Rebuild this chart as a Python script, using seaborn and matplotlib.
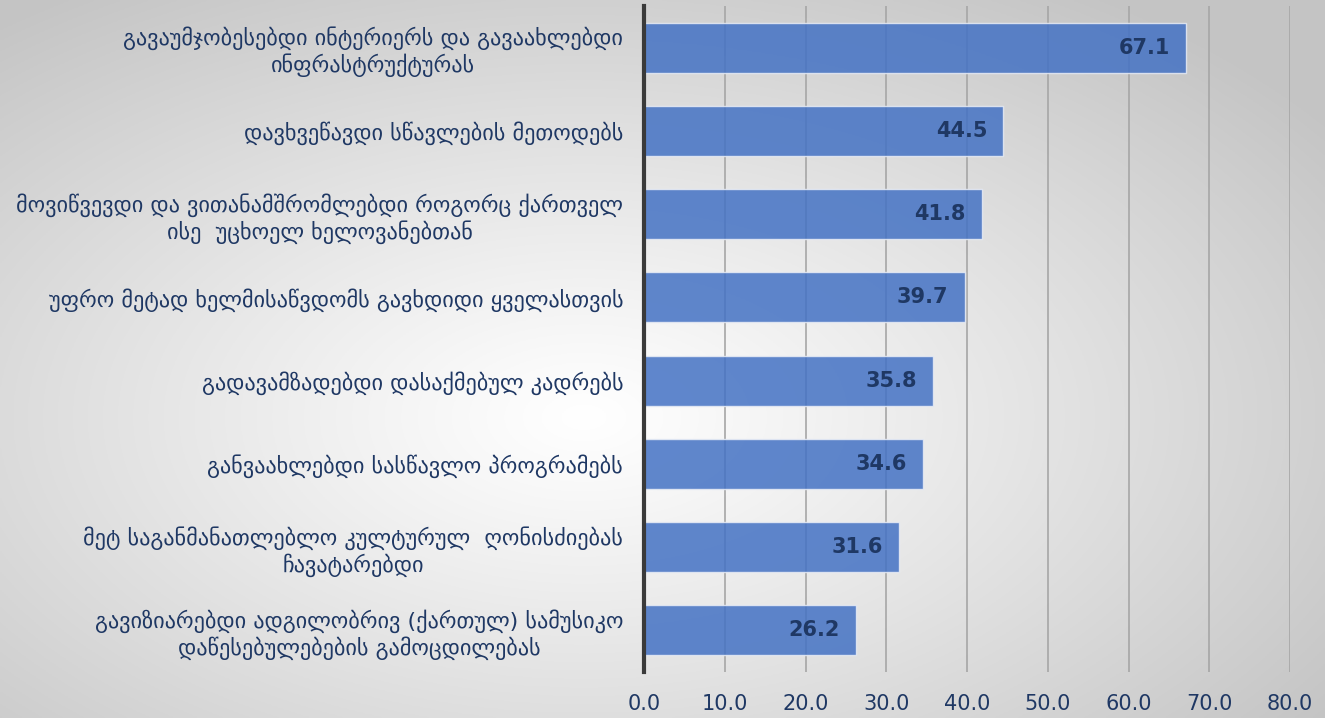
import numpy as np
import pandas as pd
import matplotlib
matplotlib.use("Agg")
import matplotlib.pyplot as plt
import seaborn as sns

categories = [
    "გავაუმჯობესებდი ინტერიერს და გავაახლებდი\nინფრასტრუქტურას",
    "დავხვეწავდი სწავლების მეთოდებს",
    "მოვიწვევდი და ვითანამშრომლებდი როგორც ქართველ\nისე  უცხოელ ხელოვანებთან",
    "უფრო მეტად ხელმისაწვდომს გავხდიდი ყველასთვის",
    "გადავამზადებდი დასაქმებულ კადრებს",
    "განვაახლებდი სასწავლო პროგრამებს",
    "მეტ საგანმანათლებლო კულტურულ  ღონისძიებას\nჩავატარებდი",
    "გავიზიარებდი ადგილობრივ (ქართულ) სამუსიკო\nდაწესებულებების გამოცდილებას",
]
values = [67.1, 44.5, 41.8, 39.7, 35.8, 34.6, 31.6, 26.2]
xticks = [0, 10, 20, 30, 40, 50, 60, 70, 80]

df = pd.DataFrame({"cat": categories, "val": values})

sns.set_theme(style="white")
plt.rcParams["font.family"] = ["DejaVu Sans"]

fig = plt.figure(figsize=(13.25, 7.18), dpi=100)

# background gradient (radial, white centre, grey edges)
bg = fig.add_axes([0, 0, 1, 1], zorder=-10)
H, W = 360, 660
yy, xx = np.mgrid[0:H, 0:W]
cx, cy = 0.44 * W, 0.58 * H
dx = (xx - cx) / max(cx, W - cx)
dy = (yy - cy) / max(cy, H - cy)
d = np.sqrt(dx ** 2 + dy ** 2) / np.sqrt(2)
g = 1.0 - 0.23 * np.clip(d * 1.15, 0, 1) ** 1.1
bg.imshow(np.dstack([g, g, g]), aspect="auto", extent=[0, 1, 0, 1], origin="upper")
bg.axis("off")

ax = fig.add_axes([644 / 1325, 1 - 672 / 718, (1290 - 644) / 1325, (672 - 6) / 718])
ax.patch.set_alpha(0)
navy = "#1F3864"

sns.barplot(data=df, x="val", y="cat", orient="h", color="#4472C4", width=0.6,
            alpha=0.85, edgecolor="#E8ECF5", linewidth=1, ax=ax, zorder=3, saturation=1)

ax.set_xlim(0, 80)
ax.set_xticks(xticks)
ax.set_xticklabels([f"{v:.1f}" for v in xticks], color=navy, fontsize=15)
ax.tick_params(axis="x", length=0, pad=16)
ax.tick_params(axis="y", length=0, pad=15)
for lbl in ax.get_yticklabels():
    lbl.set_fontsize(16)
    lbl.set_color(navy)
    lbl.set_multialignment("center")
ax.set_xlabel("")
ax.set_ylabel("")
ax.xaxis.grid(True, color="#A6A6A6", linewidth=1.2, zorder=4)
ax.set_axisbelow(False)
for s in ["top", "right", "bottom"]:
    ax.spines[s].set_visible(False)
ax.spines["left"].set_color("#3A3A3A")
ax.spines["left"].set_linewidth(3)
ax.spines["left"].set_zorder(6)

for i, v in enumerate(values):
    ax.text(v - 2.0, i, f"{v:.1f}", ha="right", va="center", fontsize=15,
            fontweight="bold", color=navy, zorder=7)

fig.savefig("out.png", dpi=100)
